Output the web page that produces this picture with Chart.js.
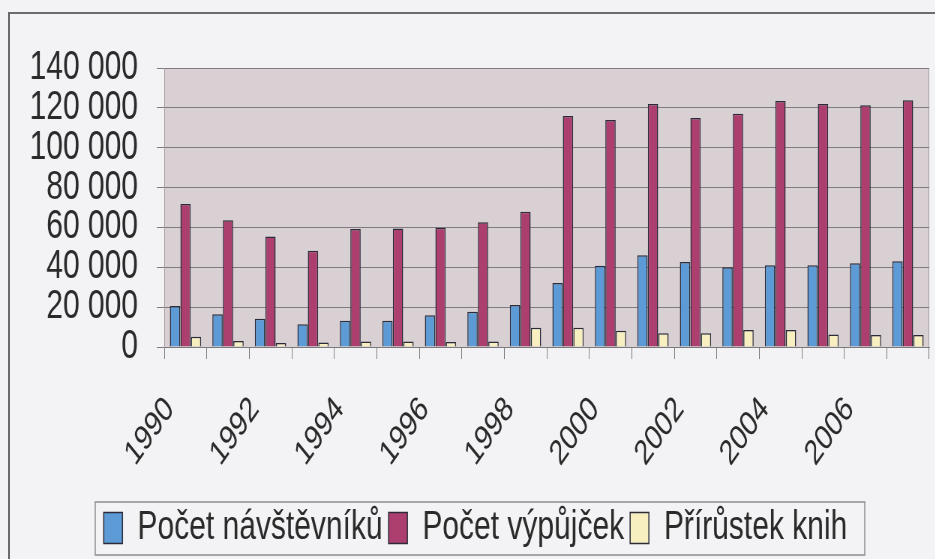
<!DOCTYPE html>
<html>
<head>
<meta charset="utf-8">
<script src="https://cdn.jsdelivr.net/npm/chart.js@4.4.1/dist/chart.umd.min.js"></script>
<style>
body{margin:0;background:#f3f3f5;overflow:hidden;width:935px;height:559px;position:relative}
#wrap{position:absolute;left:0;top:0;width:1247px;height:559px;transform:scaleX(0.75);transform-origin:0 0}
#frame{position:absolute;left:8px;top:12px;width:1000px;height:600px;border-left:2px solid #6b6b6b;border-top:2px solid #6b6b6b;pointer-events:none}
</style>
</head>
<body>
<div id="wrap"><canvas id="mychart"></canvas></div>
<div id="frame"></div>
<script>
var years = ["1990","1991","1992","1993","1994","1995","1996","1997","1998","1999","2000","2001","2002","2003","2004","2005","2006","2007"];
var visitors = [20600,16400,14200,11400,13200,13200,15900,17700,21100,32100,40800,46000,42700,40000,41000,41000,42000,43000];
var loans = [71800,63600,55400,48300,59200,59500,59900,62600,67900,115900,113900,121900,114900,117100,123400,121900,121300,123800];
var books = [5200,3000,2000,2200,2700,2700,2500,2700,9700,9700,8200,6900,6900,8500,8500,6300,6000,6000];
var seriesNames = ["Počet návštěvníků","Počet výpůjček","Přírůstek knih"];
var yMax = 140000;
var yStep = 20000;

// thousands with a space, like "140 000"
function fmt(v){
    return String(v).replace(/\B(?=(\d{3})+(?!\d))/g, " ");
}

var plotBg = {
    id: "plotBg",
    beforeDraw: function(chart){
        var a = chart.chartArea, ctx = chart.ctx;
        ctx.save();
        ctx.fillStyle = "#d9d0d4";
        ctx.fillRect(a.left, a.top, a.right - a.left, a.bottom - a.top);
        ctx.strokeStyle = "#a09a9d";
        ctx.lineWidth = 1;
        ctx.strokeRect(a.left + 0.5, a.top + 0.5, a.right - a.left - 1, a.bottom - a.top);
        ctx.restore();
    },
    afterLayout: function(chart){
        // move legend so it sits where the original one is
        var lg = chart.legend;
        var d = 634 - (lg.left + lg.right) / 2;
        lg.left += d; lg.right += d;
    },
    afterDraw: function(chart){
        var lg = chart.legend, ctx = chart.ctx;
        var cx = (lg.left + lg.right) / 2 + 6;
        ctx.save();
        ctx.strokeStyle = "#8d8d8d";
        ctx.lineWidth = 1.5;
        ctx.strokeRect(cx - 513, lg.top + 2, 1026, 53);
        ctx.restore();
    }
};

var mychart = document.getElementById("mychart").getContext("2d");
var chart = new Chart(mychart, {
    type: "bar",
    data: {
        labels: years,
        datasets: [
            {label: seriesNames[0], data: visitors, backgroundColor: "#5c9bd6", borderColor: "#2b2b3a", borderWidth: 1.5},
            {label: seriesNames[1], data: loans, backgroundColor: "#ad3f6e", borderColor: "#2b2b3a", borderWidth: 1.5},
            {label: seriesNames[2], data: books, backgroundColor: "#f8efc0", borderColor: "#2b2b3a", borderWidth: 1.5}
        ]
    },
    options: {
        responsive: true,
        maintainAspectRatio: false,
        animation: false,
        datasets: {bar: {categoryPercentage: 0.74, barPercentage: 0.98}},
        layout: {padding: {left: 0, right: 8, top: 68, bottom: 1}},
        plugins: {
            tooltip: {enabled: false},
            legend: {
                position: "bottom",
                labels: {
                    color: "#2a2a2a",
                    font: {family: "'Liberation Sans', Arial, sans-serif", size: 40},
                    boxWidth: 25,
                    boxHeight: 31,
                    padding: 8
                }
            }
        },
        scales: {
            x: {
                grid: {display: true, drawOnChartArea: false, drawTicks: true, tickLength: 12, color: "#7a7a7a", offset: true},
                border: {display: true, color: "#7a7a7a"},
                ticks: {
                    autoSkip: false,
                    minRotation: 47,
                    maxRotation: 47,
                    padding: 30,
                    labelOffset: -21,
                    color: "#2a2a2a",
                    font: {family: "'Liberation Sans', Arial, sans-serif", size: 35},
                    callback: function(v, i){ return i % 2 === 0 ? years[i] : ""; }
                },
                afterFit: function(s){ s.height = 153; s.paddingLeft = 0; s.paddingRight = 0; }
            },
            y: {
                min: 0,
                max: yMax,
                grid: {color: "#817a7e", lineWidth: 1, tickLength: 10, drawTicks: true},
                border: {display: true, color: "#a09a9d"},
                ticks: {
                    stepSize: yStep,
                    autoSkip: false,
                    padding: 25,
                    color: "#2a2a2a",
                    font: {family: "'Liberation Sans', Arial, sans-serif", size: 40},
                    callback: function(v){ return fmt(v); }
                },
                afterFit: function(s){ s.width = 219; }
            }
        }
    },
    plugins: [plotBg]
});
</script>
</body>
</html>
